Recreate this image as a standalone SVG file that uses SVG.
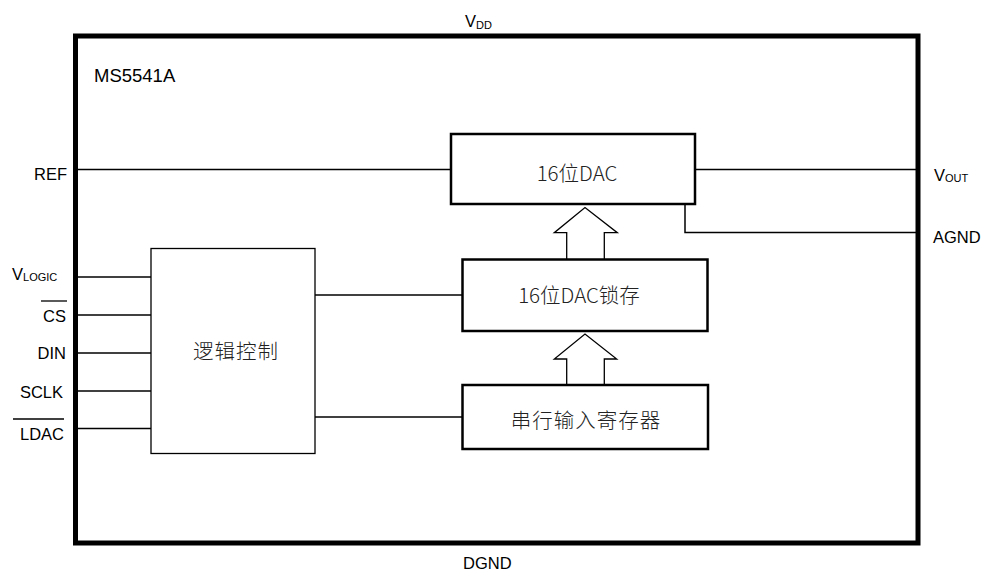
<svg xmlns="http://www.w3.org/2000/svg" width="990" height="575" viewBox="0 0 990 575">
<style>
.lbl{font-family:"Liberation Sans","Noto Sans",sans-serif;font-size:16.5px;fill:#000}
.sub{font-size:11px}
.cn{font-family:"Noto Sans CJK SC","Liberation Sans",sans-serif;font-size:20.5px;fill:#222;font-weight:300}
.blk{fill:#fff;stroke:#000;stroke-width:2.5}
.wire{stroke:#000;stroke-width:1.5;fill:none}
.arr{fill:#fff;stroke:#000;stroke-width:1.3;stroke-linejoin:miter}
</style>
<rect x="75.5" y="36" width="842.5" height="507" fill="none" stroke="#000" stroke-width="5"/>
<g id="labels">
<text class="lbl" x="94" y="82" style="font-size:18.5px">MS5541A</text>
<text class="lbl" x="465" y="27">V<tspan class="sub" dy="2">DD</tspan></text>
<text class="lbl" x="67" y="180" text-anchor="end">REF</text>
<text class="lbl" x="934" y="181">V<tspan class="sub" dy="1">OUT</tspan></text>
<text class="lbl" x="933" y="243">AGND</text>
<text class="lbl" x="463" y="569">DGND</text>
<text class="lbl" x="12" y="280">V<tspan class="sub" dy="1">LOGIC</tspan></text>
<text class="lbl" x="66" y="322" text-anchor="end">CS</text>
<line x1="41" y1="301" x2="67" y2="301" stroke="#000" stroke-width="1.3"/>
<text class="lbl" x="66" y="359" text-anchor="end">DIN</text>
<text class="lbl" x="63" y="398" text-anchor="end">SCLK</text>
<text class="lbl" x="64" y="440" text-anchor="end">LDAC</text>
<line x1="13" y1="419" x2="64" y2="419" stroke="#000" stroke-width="1.3"/>
</g>
<g id="connectors">
<line class="wire" x1="77" y1="169.5" x2="452" y2="169.5"/>
<line class="wire" x1="696" y1="169.5" x2="918" y2="169.5"/>
<polyline class="wire" points="685,205 685,232.5 918,232.5"/>
<line class="wire" x1="77" y1="277" x2="151" y2="277"/>
<line class="wire" x1="77" y1="315" x2="151" y2="315"/>
<line class="wire" x1="77" y1="353" x2="151" y2="353"/>
<line class="wire" x1="77" y1="391" x2="151" y2="391"/>
<line class="wire" x1="77" y1="428.5" x2="151" y2="428.5"/>
<line class="wire" x1="315" y1="295" x2="462" y2="295"/>
<line class="wire" x1="315" y1="417" x2="462" y2="417"/>
<path class="arr" d="M566.7,259.5 V232.7 H554.3 L585,207.5 L617.3,232.7 H604.3 V259.5"/>
<path class="arr" d="M566.7,385 V359 H554.3 L585,334 L616.7,359 H604.3 V385"/>
</g>
<g id="dac">
<rect class="blk" x="451" y="134" width="244" height="70"/>
<text class="cn" x="577" y="181" text-anchor="middle">16位DAC</text>
</g>
<g id="latch">
<rect class="blk" x="462.5" y="259.5" width="245" height="71.5"/>
<text class="cn" x="579" y="303" text-anchor="middle">16位DAC锁存</text>
</g>
<g id="shift">
<rect class="blk" x="462.5" y="385" width="245.5" height="64"/>
<text class="cn" x="586" y="428" text-anchor="middle" letter-spacing="1">串行输入寄存器</text>
</g>
<g id="logic">
<rect x="151" y="248.5" width="164" height="205" fill="#fff" stroke="#000" stroke-width="1.3"/>
<text class="cn" x="236" y="359" text-anchor="middle" letter-spacing="1">逻辑控制</text>
</g>
</svg>
